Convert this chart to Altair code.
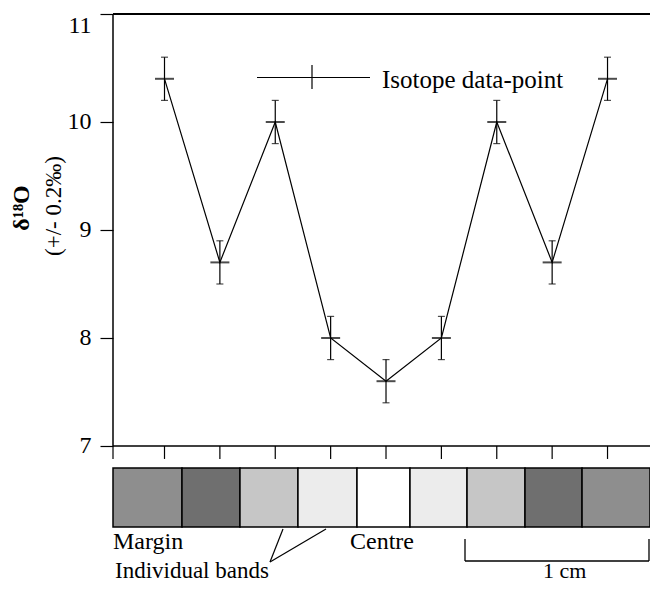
import altair as alt
import pandas as pd

# ---- data ----
positions = [1, 2, 3, 4, 5, 6, 7, 8, 9]
d18o = [10.4, 8.7, 10.0, 8.0, 7.6, 8.0, 10.0, 8.7, 10.4]
err = [0.2] * 9

x_min, x_max = 0.07, 9.767
tick_positions = [x_min, 1, 2, 3, 4, 5, 6, 7, 8, 9]

band_edges = [x_min, 1.316, 2.363, 3.41, 4.476, 5.433, 6.463, 7.51, 8.54, x_max]
band_fills = ["#8e8e8e", "#6f6f6f", "#c6c6c6", "#ececec", "#ffffff",
              "#ececec", "#c6c6c6", "#6f6f6f", "#8e8e8e"]
y_ticks = [7, 8, 9, 10, 11]
y_lo, y_hi = 7, 11

pts = pd.DataFrame({"x": positions, "v": d18o,
                    "lo": [v - e for v, e in zip(d18o, err)],
                    "hi": [v + e for v, e in zip(d18o, err)]})
bands = pd.DataFrame({"x0": band_edges[:-1], "x1": band_edges[1:], "fill": band_fills})
ticks = pd.DataFrame({"x": tick_positions, "y0": [y_lo] * len(tick_positions),
                      "y1": [y_lo - 0.12] * len(tick_positions)})
frame_h = pd.DataFrame({"x0": [x_min, x_min], "x1": [x_max, x_max], "y": [y_lo, y_hi],
                        "w": [1.5, 2.2]})
frame_v = pd.DataFrame({"x": [x_min], "y0": [y_lo], "y1": [y_hi]})

W, H = 537, 570.24
xs = alt.Scale(domain=[x_min, x_max], nice=False, zero=False)
ys = alt.Scale(domain=[5.72, 11], nice=False, zero=False)

yaxis_def = alt.Axis(values=y_ticks, domain=False, grid=False, tickSize=13,
                     tickColor="black", tickWidth=1.2, labelFont="Liberation Serif",
                     labelFontSize=24, labelColor="black", labelPadding=9, title=None,
                     labelBaseline=alt.condition("datum.value == 11",
                                                 alt.value("top"), alt.value("middle")))


def X(f):
    return alt.X(f, type="quantitative", scale=xs, axis=None)


def Y(f):
    return alt.Y(f, type="quantitative", scale=ys, axis=yaxis_def)


base = alt.Chart(pts)

yaxis = alt.Chart(frame_v).mark_rule(color="black", strokeWidth=1.5).encode(
    x=X("x"), y=Y("y0"), y2="y1")

hlines = alt.Chart(frame_h).mark_rule(color="black").encode(
    x=X("x0"), x2="x1", y=Y("y"), strokeWidth=alt.StrokeWidth("w:Q", scale=None))

x_ticks = alt.Chart(ticks).mark_rule(color="black", strokeWidth=1.2).encode(
    x=X("x"), y=Y("y0"), y2="y1")

# data
line = base.mark_line(color="black", strokeWidth=1.2).encode(x=X("x"), y=Y("v"))
ebar = base.mark_rule(color="black", strokeWidth=1.2).encode(x=X("x"), y=Y("lo"), y2="hi")
cap_lo = base.mark_tick(color="black", orient="horizontal", size=7, thickness=1.2).encode(
    x=X("x"), y=Y("lo"))
cap_hi = base.mark_tick(color="black", orient="horizontal", size=7, thickness=1.2).encode(
    x=X("x"), y=Y("hi"))
cross = base.mark_tick(color="black", orient="horizontal", size=19, thickness=2).encode(
    x=X("x"), y=Y("v"))

# bands
band_rects = alt.Chart(bands).mark_rect(stroke="black", strokeWidth=1.5).encode(
    x=X("x0"), x2="x1", y=alt.value(454), y2=alt.value(513),
    fill=alt.Fill("fill:N", scale=None))

one = alt.Chart(pd.DataFrame({"a": [0]}))

# legend
leg_line = one.mark_rule(color="black", strokeWidth=1.2).encode(
    x=alt.value(144), x2=alt.value(257), y=alt.value(63.5))
leg_v = one.mark_rule(color="black", strokeWidth=1.2).encode(
    x=alt.value(199), y=alt.value(51), y2=alt.value(75))
leg_text = one.mark_text(text="Isotope data-point", font="Liberation Serif", fontSize=25,
                         align="left", baseline="alphabetic", color="black").encode(
    x=alt.value(269), y=alt.value(74))

# y title
t1 = one.mark_text(text="δ¹⁸O", font="Liberation Serif", fontSize=24, fontWeight="bold",
                   angle=270, align="center", baseline="middle", color="black").encode(
    x=alt.value(-91), y=alt.value(194))
t2 = one.mark_text(text="(+/- 0.2‰)", font="Liberation Serif", fontSize=23,
                   angle=270, align="center", baseline="middle", color="black").encode(
    x=alt.value(-59), y=alt.value(192))


def label(txt, x, y, size=24):
    return one.mark_text(text=txt, font="Liberation Serif", fontSize=size, align="left",
                         baseline="alphabetic", color="black").encode(
        x=alt.value(x), y=alt.value(y))


margin_t = label("Margin", 0, 535)
centre_t = label("Centre", 237, 535)
bands_t = label("Individual bands", 2, 564, size=23)
cm_t = label("1 cm", 430, 564, size=22)

p1 = one.mark_rule(color="black", strokeWidth=1.2).encode(
    x=alt.value(157), x2=alt.value(170), y=alt.value(548), y2=alt.value(515))
p2 = one.mark_rule(color="black", strokeWidth=1.2).encode(
    x=alt.value(157), x2=alt.value(213), y=alt.value(548), y2=alt.value(515))

sb_h = one.mark_rule(color="black", strokeWidth=1.3).encode(
    x=alt.value(352), x2=alt.value(536), y=alt.value(547))
sb_l = one.mark_rule(color="black", strokeWidth=1.3).encode(
    x=alt.value(352), y=alt.value(525), y2=alt.value(547))
sb_r = one.mark_rule(color="black", strokeWidth=1.3).encode(
    x=alt.value(536), y=alt.value(525), y2=alt.value(547))

chart = alt.layer(
    band_rects, yaxis, hlines, x_ticks,
    line, ebar, cap_lo, cap_hi, cross,
    leg_line, leg_v, leg_text, t1, t2,
    margin_t, centre_t, bands_t, cm_t, p1, p2, sb_h, sb_l, sb_r,
).properties(
    width=W, height=H,
    autosize=alt.AutoSizeParams(type="none"),
    padding={"left": 105, "top": 6, "right": 0, "bottom": 0},
    background="white",
).configure_view(stroke=None)

chart.save("out.html", embed_options={"renderer": "svg", "actions": False})
